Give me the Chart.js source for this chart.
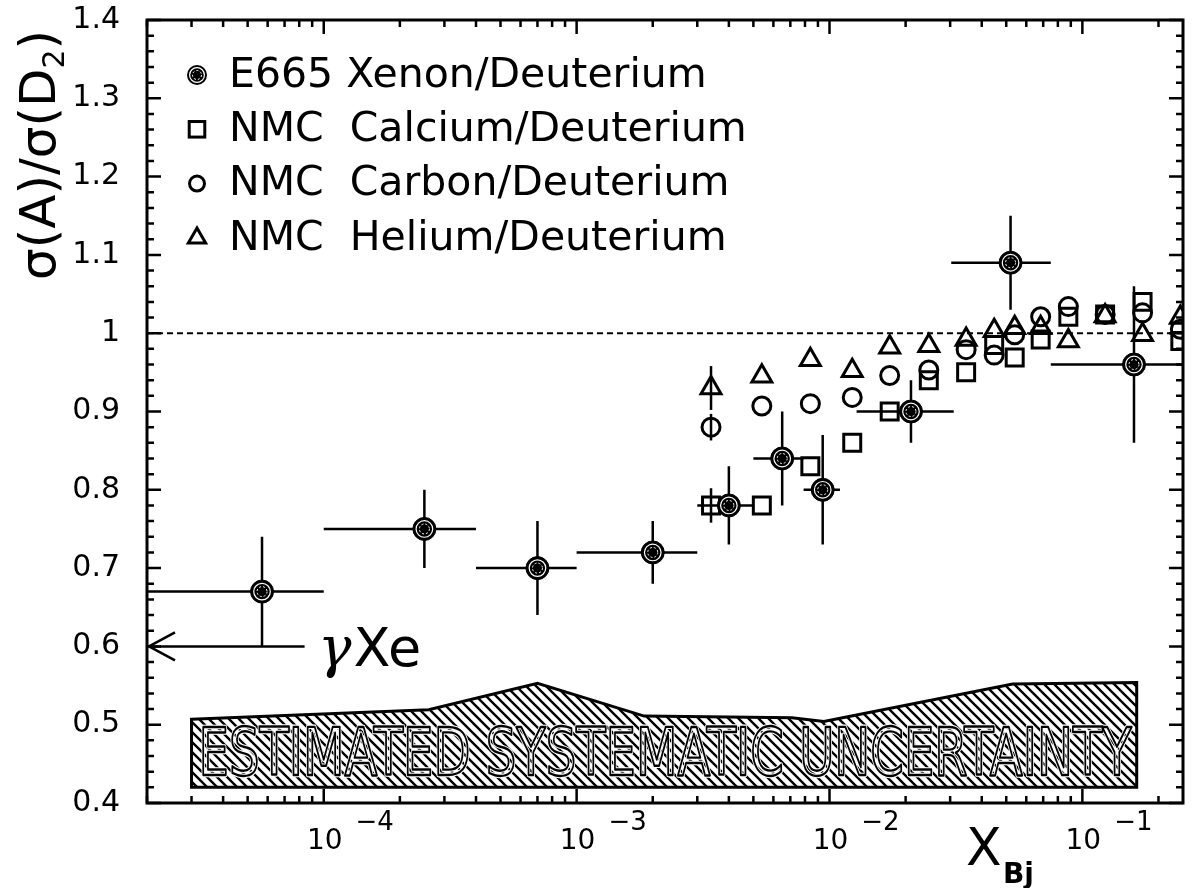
<!DOCTYPE html>
<html><head><meta charset="utf-8">
<script src="https://cdn.jsdelivr.net/npm/chart.js@4.4.1/dist/chart.umd.min.js"></script>
<style>html,body{margin:0;padding:0;background:#fff;overflow:hidden}#wrap{width:1198px;height:888px}</style>
</head><body><div id="wrap"><canvas id="c" width="1198" height="888"></canvas></div>
<script>
// ---------- axis ranges ----------
const X_MIN = 2e-5, X_MAX = 0.25, Y_MIN = 0.4, Y_MAX = 1.4;
const X_DECADE_LABELS = [-4, -3, -2, -1];

// ---------- E665 Xenon/Deuterium ----------
const XE_X    = [5.7e-5, 2.5e-4, 7.0e-4, 2.0e-3, 4.0e-3, 6.5e-3, 9.4e-3, 0.021, 0.052, 0.16];
const XE_Y    = [0.67, 0.75, 0.70, 0.72, 0.78, 0.84, 0.80, 0.90, 1.09, 0.96];
const XE_YERR = [0.07, 0.05, 0.06, 0.04, 0.05, 0.06, 0.07, 0.04, 0.06, 0.10];
const XE_XLO  = [1.5e-5, 1.0e-4, 4.0e-4, 1.0e-3, 3.0e-3, 5.0e-3, 7.9e-3, 0.0128, 0.0303, 0.075];
const XE_XHI  = [1.0e-4, 4.0e-4, 1.0e-3, 3.0e-3, 5.0e-3, 7.9e-3, 0.011, 0.031, 0.075, 0.30];

// ---------- NMC ----------
const NMC_X  = [3.4e-3, 5.4e-3, 8.4e-3, 0.0123, 0.0173, 0.0247, 0.0347, 0.0448, 0.054, 0.0684, 0.088, 0.123, 0.173, 0.244];
const CA_Y   = [0.78, 0.78, 0.83, 0.86, 0.90, 0.94, 0.95, 0.985, 0.969, 0.992, 1.021, 1.024, 1.04, 0.99];
const C_Y    = [0.88, 0.907, 0.91, 0.918, 0.946, 0.953, 0.979, 0.972, 0.998, 1.021, 1.034, 1.024, 1.026, 1.005];
const HE_Y   = [0.93, 0.945, 0.966, 0.952, 0.982, 0.984, 0.992, 1.003, 1.007, 1.007, 0.99, 1.022, 0.998, 1.02];
const CA_ERR = [0.022, 0, 0, 0, 0, 0, 0, 0, 0, 0, 0, 0, 0, 0];
const C_ERR  = [0.017, 0, 0, 0, 0, 0, 0, 0, 0, 0, 0, 0, 0, 0];
const HE_ERR = [0.028, 0, 0, 0, 0, 0, 0, 0, 0, 0, 0, 0, 0, 0];

// ---------- systematic band ----------
const BAND_X   = [3.0e-5, 2.6e-4, 7.0e-4, 1.85e-3, 7.1e-3, 9.5e-3, 0.053, 0.164];
const BAND_TOP = [0.507, 0.519, 0.553, 0.511, 0.509, 0.504, 0.552, 0.554];
const BAND_LOW = [0.42, 0.42, 0.42, 0.42, 0.42, 0.42, 0.42, 0.42];
const BAND_LABEL = 'ESTIMATED SYSTEMATIC UNCERTAINTY';

// ---------- annotations ----------
const UNITY = 1.0;
const GAMMA_XE = 0.6;
const GAMMA_ARROW_END = 8.4e-5;
const LEGEND_LABELS = ['E665 Xenon/Deuterium', 'NMC  Calcium/Deuterium', 'NMC  Carbon/Deuterium', 'NMC  Helium/Deuterium'];

const FONT = '"DejaVu Sans", "Liberation Sans", sans-serif';
const pts = (xs, ys) => xs.map((x, i) => ({x, y: ys[i]}));

function hatchPattern(ctx) {
  const c = document.createElement('canvas'); c.width = 10; c.height = 10;
  const g = c.getContext('2d');
  g.strokeStyle = '#000'; g.lineWidth = 2.4; g.lineCap = 'square';
  g.beginPath();
  g.moveTo(-5, -5); g.lineTo(15, 15);
  g.moveTo(-5, 5); g.lineTo(5, 15);
  g.moveTo(5, -5); g.lineTo(15, 5);
  g.stroke();
  return ctx.createPattern(c, 'repeat');
}

function drawMarker(ctx, style, x, y, r) {
  ctx.save();
  ctx.strokeStyle = '#000'; ctx.lineWidth = 3;
  if (style === 'xe') {
    ctx.fillStyle = '#000'; ctx.beginPath(); ctx.arc(x, y, r, 0, Math.PI * 2); ctx.fill();
    ctx.strokeStyle = '#fff'; ctx.lineWidth = 1.2;
    ctx.beginPath(); ctx.arc(x, y, r * 0.74, 0, Math.PI * 2); ctx.stroke();
    ctx.setLineDash([2, 2]); ctx.lineWidth = 1;
    ctx.beginPath(); ctx.arc(x, y, r * 0.45, 0, Math.PI * 2); ctx.stroke();
  } else if (style === 'rect') {
    const s = r * Math.SQRT1_2;
    ctx.strokeRect(x - s, y - s, 2 * s, 2 * s);
  } else if (style === 'circle') {
    ctx.beginPath(); ctx.arc(x, y, r, 0, Math.PI * 2); ctx.stroke();
  } else {
    ctx.beginPath();
    for (let k = 0; k < 3; k++) {
      const a = k * 2 * Math.PI / 3;
      const px = x + Math.sin(a) * r, py = y - Math.cos(a) * r;
      k ? ctx.lineTo(px, py) : ctx.moveTo(px, py);
    }
    ctx.closePath(); ctx.stroke();
  }
  ctx.restore();
}

const decor = {
  id: 'decor',
  beforeDatasetsDraw(chart) {
    const {ctx, chartArea: a, scales: {x: xs, y: ys}} = chart;
    ctx.save();
    ctx.beginPath(); ctx.rect(a.left, a.top, a.right - a.left, a.bottom - a.top); ctx.clip();
    // systematic band
    ctx.beginPath();
    BAND_X.forEach((v, i) => { const px = xs.getPixelForValue(v), py = ys.getPixelForValue(BAND_TOP[i]); i ? ctx.lineTo(px, py) : ctx.moveTo(px, py); });
    for (let i = BAND_X.length - 1; i >= 0; i--) ctx.lineTo(xs.getPixelForValue(BAND_X[i]), ys.getPixelForValue(BAND_LOW[i]));
    ctx.closePath();
    ctx.fillStyle = hatchPattern(ctx); ctx.fill();
    ctx.lineWidth = 3; ctx.strokeStyle = '#000'; ctx.lineJoin = 'miter'; ctx.stroke();
    // band label (outlined letters)
    const lx0 = xs.getPixelForValue(BAND_X[0]) + 7, lx1 = xs.getPixelForValue(BAND_X[BAND_X.length - 1]) - 5;
    const ly = ys.getPixelForValue((BAND_LOW[0] + 0.5) / 2);
    ctx.font = '66px ' + FONT; ctx.textBaseline = 'middle'; ctx.textAlign = 'left';
    const w = ctx.measureText(BAND_LABEL).width;
    ctx.save(); ctx.translate(lx0, ly + 2); ctx.scale((lx1 - lx0) / w, 1);
    ctx.lineJoin = 'round';
    ctx.strokeStyle = '#fff'; ctx.lineWidth = 4.5; ctx.strokeText(BAND_LABEL, 0, 0);
    ctx.strokeStyle = '#000'; ctx.lineWidth = 2.4; ctx.strokeText(BAND_LABEL, 0, 0);
    ctx.restore();
    // unity dashed line
    const yu = ys.getPixelForValue(UNITY);
    ctx.setLineDash([6, 4]); ctx.lineWidth = 2; ctx.beginPath(); ctx.moveTo(a.left, yu); ctx.lineTo(a.right, yu); ctx.stroke(); ctx.setLineDash([]);
    // gamma Xe arrow
    const ya = ys.getPixelForValue(GAMMA_XE), xa0 = xs.getPixelForValue(X_MIN) + 2, xa1 = xs.getPixelForValue(GAMMA_ARROW_END);
    ctx.lineWidth = 2.5; ctx.beginPath(); ctx.moveTo(xa0, ya); ctx.lineTo(xa1, ya);
    ctx.moveTo(xa0 + 26, ya - 14); ctx.lineTo(xa0, ya); ctx.lineTo(xa0 + 26, ya + 14); ctx.stroke();
    // error bars
    ctx.lineWidth = 2.5;
    XE_X.forEach((v, i) => {
      const px = xs.getPixelForValue(v);
      ctx.beginPath();
      ctx.moveTo(px, ys.getPixelForValue(XE_Y[i] + XE_YERR[i])); ctx.lineTo(px, ys.getPixelForValue(XE_Y[i] - XE_YERR[i]));
      const py = ys.getPixelForValue(XE_Y[i]);
      ctx.moveTo(xs.getPixelForValue(XE_XLO[i]), py); ctx.lineTo(xs.getPixelForValue(XE_XHI[i]), py);
      ctx.stroke();
    });
    [[CA_Y, CA_ERR], [C_Y, C_ERR], [HE_Y, HE_ERR]].forEach(([yv, ev]) => {
      NMC_X.forEach((v, i) => {
        if (!ev[i]) return;
        const px = xs.getPixelForValue(v);
        ctx.beginPath(); ctx.moveTo(px, ys.getPixelForValue(yv[i] + ev[i])); ctx.lineTo(px, ys.getPixelForValue(yv[i] - ev[i])); ctx.stroke();
      });
    });
    ctx.restore();
  },
  afterDatasetsDraw(chart) {
    const {ctx, scales: {x: xs, y: ys}} = chart;
    ctx.save();
    XE_X.forEach((v, i) => {
      const px = xs.getPixelForValue(v), py = ys.getPixelForValue(XE_Y[i]);
      ctx.strokeStyle = '#fff'; ctx.lineWidth = 1.2;
      ctx.beginPath(); ctx.arc(px, py, 8.3, 0, Math.PI * 2); ctx.stroke();
      ctx.setLineDash([2, 2]); ctx.lineWidth = 1;
      ctx.beginPath(); ctx.arc(px, py, 5, 0, Math.PI * 2); ctx.stroke(); ctx.setLineDash([]);
    });
    ctx.restore();
  },
  afterDraw(chart) {
    const {ctx, chartArea: a, scales: {x: xs, y: ys}} = chart;
    ctx.save();
    ctx.strokeStyle = '#000'; ctx.fillStyle = '#000';
    // frame
    ctx.lineWidth = 3; ctx.strokeRect(a.left, a.top, a.right - a.left, a.bottom - a.top);
    // y ticks (inside, both sides)
    ctx.lineWidth = 2.5; ctx.beginPath();
    for (let k = 0; k <= 50; k++) {
      const v = Y_MIN + k * 0.02, py = ys.getPixelForValue(v), len = (k % 5 === 0) ? 14 : 7;
      ctx.moveTo(a.left, py); ctx.lineTo(a.left + len, py);
      ctx.moveTo(a.right, py); ctx.lineTo(a.right - len, py);
    }
    // x ticks (inside, top and bottom)
    for (let d = -5; d <= 0; d++) for (let m = 1; m <= 9; m++) {
      const v = m * Math.pow(10, d);
      if (v < X_MIN || v > X_MAX) continue;
      const px = xs.getPixelForValue(v), len = m === 1 ? 14 : 7;
      ctx.moveTo(px, a.bottom); ctx.lineTo(px, a.bottom - len);
      ctx.moveTo(px, a.top); ctx.lineTo(px, a.top + len);
    }
    ctx.stroke();
    // x tick labels 10^n
    ctx.textBaseline = 'alphabetic';
    X_DECADE_LABELS.forEach(n => {
      const px = xs.getPixelForValue(Math.pow(10, n));
      ctx.font = '28px ' + FONT; ctx.textAlign = 'center';
      ctx.fillText('10', px + 1, 849);
      const w = ctx.measureText('10').width;
      ctx.font = '26px ' + FONT; ctx.textAlign = 'left';
      ctx.fillText('\u2212' + Math.abs(n), px + 1 + w / 2 + 13, 830);
    });
    // x title
    ctx.font = '52px ' + FONT; ctx.textAlign = 'left';
    ctx.fillText('X', 966, 865);
    ctx.font = 'bold 28px ' + FONT; ctx.fillText('Bj', 1003, 883);
    // y title (rotated)
    ctx.save(); ctx.translate(38, 155); ctx.rotate(-Math.PI / 2);
    const big = '50px ' + FONT, small = '30px ' + FONT;
    const segs = [['\u03c3(A)/\u03c3(D', big, 0], ['2', small, 9], [')', big, 0]];
    let tw = 0; segs.forEach(s => { ctx.font = s[1]; tw += ctx.measureText(s[0]).width; });
    let cx = -tw / 2;
    segs.forEach(s => { ctx.font = s[1]; ctx.textAlign = 'left'; ctx.fillText(s[0], cx, 17 + s[2]); cx += ctx.measureText(s[0]).width; });
    ctx.restore();
    // gamma Xe label
    const ya = ys.getPixelForValue(GAMMA_XE);
    ctx.textBaseline = 'alphabetic'; ctx.textAlign = 'left';
    ctx.font = 'italic 56px "DejaVu Serif", serif'; ctx.fillText('\u03b3', 318, ya + 20);
    const gw = ctx.measureText('\u03b3').width;
    ctx.font = '54px ' + FONT; ctx.fillText('Xe', 318 + gw + 2, ya + 20);
    // legend
    const rows = [['xe', 10], ['rect', 11], ['circle', 7.5], ['triangle', 10]];
    LEGEND_LABELS.forEach((t, i) => {
      const y = 75 + i * 54.3;
      drawMarker(ctx, rows[i][0], 197, y, rows[i][1]);
      ctx.font = '41px ' + FONT; ctx.textAlign = 'left'; ctx.textBaseline = 'middle'; ctx.fillStyle = '#000';
      ctx.fillText(t, 229, y + 1);
    });
    ctx.restore();
  }
};

new Chart(document.getElementById('c'), {
  type: 'scatter',
  data: {
    datasets: [
      {label: 'E665 Xenon/Deuterium', data: pts(XE_X, XE_Y), pointStyle: 'circle', pointRadius: 11.5, backgroundColor: '#000', borderColor: '#000', borderWidth: 1, clip: 0},
      {label: 'NMC Calcium/Deuterium', data: pts(NMC_X, CA_Y), pointStyle: 'rect', pointRadius: 12, backgroundColor: 'rgba(0,0,0,0)', borderColor: '#000', borderWidth: 3, clip: 0},
      {label: 'NMC Carbon/Deuterium', data: pts(NMC_X, C_Y), pointStyle: 'circle', pointRadius: 9, backgroundColor: 'rgba(0,0,0,0)', borderColor: '#000', borderWidth: 3, clip: 0},
      {label: 'NMC Helium/Deuterium', data: pts(NMC_X, HE_Y), pointStyle: 'triangle', pointRadius: 11.5, backgroundColor: 'rgba(0,0,0,0)', borderColor: '#000', borderWidth: 3, clip: 0}
    ]
  },
  options: {
    responsive: false, devicePixelRatio: 1, animation: false,
    layout: {padding: {top: 20, right: 7, left: 0, bottom: 0}},
    plugins: {legend: {display: false}, tooltip: {enabled: false}},
    scales: {
      x: {type: 'logarithmic', position: 'bottom', min: X_MIN, max: X_MAX,
          ticks: {display: false}, grid: {display: false}, border: {display: false},
          afterFit: s => { s.height = 85; s.paddingLeft = 0; s.paddingRight = 0; }},
      y: {type: 'linear', min: Y_MIN, max: Y_MAX,
          ticks: {stepSize: 0.1, color: '#000', padding: 19, font: {family: FONT, size: 30},
                  callback: v => { const r = Math.round(v * 10) / 10; return r === 1 ? '1' : r.toFixed(1); }},
          grid: {display: false}, border: {display: false},
          afterFit: s => { s.width = 147; s.paddingTop = 0; s.paddingBottom = 0; }}
    }
  },
  plugins: [decor]
});
</script></body></html>
